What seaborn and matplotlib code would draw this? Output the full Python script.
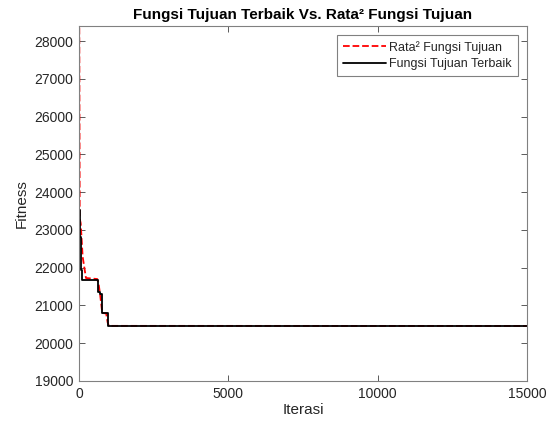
import numpy as np
import pandas as pd
import seaborn as sns
import matplotlib
matplotlib.use("Agg")
import matplotlib.pyplot as plt

# Data
iter_avg = [0, 10, 25, 57, 123, 234, 612, 660, 702, 780, 910, 960, 1000, 15000]
fit_avg = [32000, 28400, 23300, 23180, 22290, 21727, 21700, 21550, 21330, 20800, 20790, 20550, 20460, 20458]

iter_best = [0, 30, 57, 77, 100, 635, 700, 769, 960, 15000]
fit_best = [23530, 22800, 22200, 21940, 21674, 21364, 21300, 20807, 20458, 20458]

xticks = [0, 5000, 10000, 15000]
yticks = list(range(19000, 28001, 1000))

sns.set_theme(style="white")
plt.rcParams['font.family'] = ['Liberation Sans', 'DejaVu Sans']

fig = plt.figure(figsize=(5.55, 4.23), dpi=100)
ax = fig.add_axes([0.1423, 0.0993, 0.8072, 0.8392])

df_avg = pd.DataFrame({"Iterasi": iter_avg, "Fitness": fit_avg})
df_best = pd.DataFrame({"Iterasi": iter_best, "Fitness": fit_best})

sns.lineplot(data=df_avg, x="Iterasi", y="Fitness", ax=ax, color="#ff0000",
             linestyle="--", linewidth=1.3, label="Rata² Fungsi Tujuan",
             estimator=None, sort=False)
sns.lineplot(data=df_best, x="Iterasi", y="Fitness", ax=ax, color="black",
             linewidth=1.3, label="Fungsi Tujuan Terbaik",
             estimator=None, sort=False, drawstyle="steps-post")

ax.set_xlim(0, 15000)
ax.set_ylim(19000, 28400)
ax.set_xticks(xticks)
ax.set_yticks(yticks)
ax.set_xticklabels([str(t) for t in xticks])
ax.set_yticklabels([str(t) for t in yticks])

spine_col = "#262626"
for s in ax.spines.values():
    s.set_color("#808080")
    s.set_linewidth(0.8)
ax.tick_params(direction="in", length=4, width=0.6, color="#404040",
               labelsize=10, labelcolor=spine_col, top=True, right=True,
               bottom=True, left=True, labeltop=False, labelright=False, pad=4)

ax.set_xlabel("Iterasi", fontsize=11, color=spine_col, labelpad=2)
ax.set_ylabel("Fitness", fontsize=11, color=spine_col, labelpad=4)
ax.set_title("Fungsi Tujuan Terbaik Vs. Rata² Fungsi Tujuan", fontsize=11,
             fontweight="bold", color="black", pad=5)

leg = ax.legend(loc="upper right", fontsize=9, frameon=True, fancybox=False,
                edgecolor="#808080", framealpha=1, borderpad=0.45,
                handlelength=3.4, handletextpad=0.3, labelspacing=0.35,
                borderaxespad=0.75)
leg.get_frame().set_linewidth(0.8)

fig.savefig("out.png", dpi=100)
